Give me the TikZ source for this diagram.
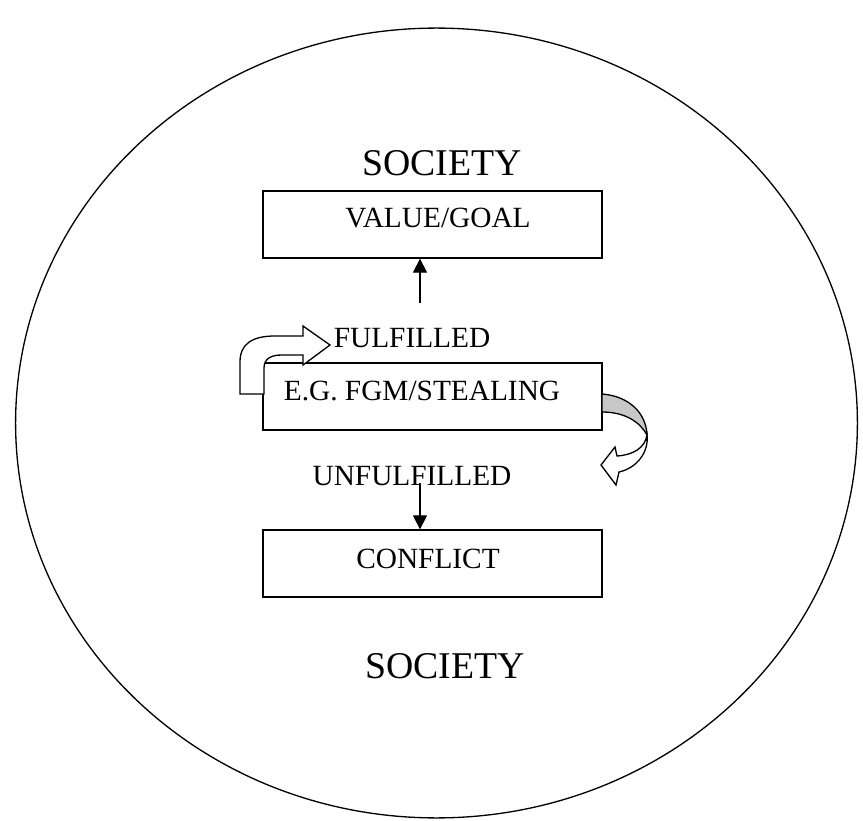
\documentclass[tikz,border=0pt]{standalone}
\usepackage{fontspec}
\setmainfont{Liberation Serif}
\usepackage{xcolor}
\usetikzlibrary{arrows.meta}
\definecolor{g1}{HTML}{C8C8C8}

\tikzset{
  box/.style={draw, line width=0.75pt, minimum width=6.78cm, minimum height=1.34cm, inner sep=0pt},
  lbl/.style={anchor=base, inner sep=0pt, font=\fontsize{16.7}{20}\selectfont},
  big/.style={anchor=base, inner sep=0pt, font=\fontsize{21.5}{26}\selectfont},
  tip/.style={-{Triangle[length=8pt,width=8pt]}, line width=0.75pt},
}

\begin{document}
\begin{tikzpicture}[x=0.02cm, y=-0.02cm]
  \useasboundingbox (0,0) rectangle (863,821);
  \draw [line width=0.75pt] (436.5,423) ellipse [x radius=8.42cm, y radius=7.9cm];
  \node [box] (goal) at (432.5,224.5) {};
  \node [box] (act) at (432.5,396.5) {};
  \node [box] (conflict) at (432.5,563.5) {};
  \node [lbl] (goaltxt) at (438,228) {VALUE/GOAL};
  \node [lbl] (acttxt) at (422,400) {E.G. FGM/STEALING};
  \node [lbl] (conflicttxt) at (428,568) {CONFLICT};
  \node [lbl] (ful) at (412,347) {FULFILLED};
  \node [lbl] (unful) at (412,485) {UNFULFILLED};
  \node [big] (soctop) at (442,175) {SOCIETY};
  \node [big] (socbot) at (445,678) {SOCIETY};
  \coordinate (upstart) at (420,303);
  \coordinate (downstart) at (420,483);
  \draw [tip] (upstart) -- (upstart |- goal.south);
  \draw [tip] (downstart) -- (downstart |- conflict.north);
  % 左侧弯箭头, 从下往上再向右
  \draw [fill=white, line width=0.75pt] (240,394) -- (240,362) .. controls (240,344) and (252,336) .. (275,336) -- (303,336) -- (303,326) -- (330,345) -- (303,365) -- (303,355) -- (282,355) .. controls (272,355) and (264,358) .. (264,368) -- (264,394) -- cycle;
  % 右侧扭转箭头: 灰色上半部分, 白色下半部分
  \draw [fill=g1, line width=0.75pt] (602,394) .. controls (628,396) and (646,412) .. (647,435) .. controls (640,422) and (625,412) .. (602,412) -- cycle;
  \draw [fill=white, line width=0.75pt] (647,435) .. controls (645,448) and (633,455) .. (617,456) -- (615,447) -- (601,465) -- (616,485) -- (619,472) .. controls (637,468) and (649,452) .. (647,435) -- cycle;
\end{tikzpicture}
\end{document}
